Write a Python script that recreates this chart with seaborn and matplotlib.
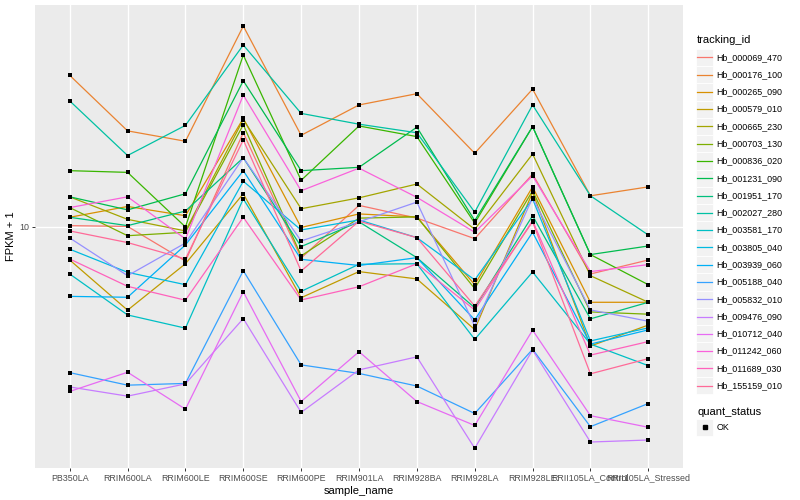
import math
import matplotlib
matplotlib.use("Agg")
import matplotlib.pyplot as plt
from matplotlib.patches import Rectangle
from matplotlib.lines import Line2D
from matplotlib.ticker import NullLocator
import pandas as pd
import seaborn as sns

samples = ["PB350LA", "RRIM600LA", "RRIM600LE", "RRIM600SE", "RRIM600PE",
           "RRIM901LA", "RRIM928BA", "RRIM928LA", "RRIM928LE",
           "RRII105LA_Control", "RRII105LA_Stressed"]

tracking_ids = ["Hb_000069_470", "Hb_000176_100", "Hb_000265_090", "Hb_000579_010",
                "Hb_000665_230", "Hb_000703_130", "Hb_000836_020", "Hb_001231_090",
                "Hb_001951_170", "Hb_002027_280", "Hb_003581_170", "Hb_003805_040",
                "Hb_003939_060", "Hb_005188_040", "Hb_005832_010", "Hb_009476_090",
                "Hb_010712_040", "Hb_011242_060", "Hb_011689_030", "Hb_155159_010"]

# FPKM + 1 per sample (same order as samples)
hb_000069_470 = [10.1, 10.04, 7.70, 20.6, 7.88, 11.8, 10.7, 9.14, 15.0, 6.97, 7.76]
hb_000176_100 = [32.0, 20.9, 19.3, 46.7, 20.2, 25.5, 27.8, 17.6, 28.8, 12.7, 13.6]
hb_000265_090 = [10.77, 11.7, 10.9, 23.0, 9.96, 11.05, 10.8, 6.42, 13.6, 5.61, 5.61]
hb_000579_010 = [7.76, 5.28, 7.54, 12.9, 5.81, 7.10, 6.71, 4.55, 13.05, 4.01, 4.71]
hb_000665_230 = [12.6, 10.6, 9.70, 22.8, 11.5, 12.5, 13.9, 9.82, 17.5, 6.88, 5.61]
hb_000703_130 = [11.6, 9.35, 9.60, 21.9, 8.01, 10.7, 10.8, 6.23, 13.2, 5.21, 5.12]
hb_000836_020 = [15.4, 15.2, 10.0, 37.4, 14.3, 21.7, 20.0, 10.3, 21.6, 8.09, 6.42]
hb_001231_090 = [12.6, 11.4, 12.9, 30.7, 15.4, 15.8, 21.5, 10.5, 21.6, 8.09, 8.64]
hb_001951_170 = [10.77, 10.1, 11.3, 17.0, 8.60, 10.4, 7.90, 5.38, 10.9, 4.94, 5.61]
hb_002027_280 = [26.3, 17.3, 21.8, 40.4, 23.9, 22.0, 20.6, 11.2, 25.5, 12.7, 9.40]
hb_003581_170 = [6.97, 5.09, 4.60, 12.4, 6.10, 7.51, 7.54, 4.22, 7.08, 4.07, 3.45]
hb_003805_040 = [8.43, 7.06, 6.42, 14.2, 9.77, 10.55, 9.21, 6.66, 12.4, 4.17, 4.61]
hb_003939_060 = [5.87, 5.83, 8.71, 15.4, 7.80, 7.44, 7.90, 4.90, 9.60, 4.07, 4.54]
hb_005188_040 = [3.27, 2.97, 3.01, 7.15, 3.47, 3.25, 2.95, 2.39, 3.91, 2.16, 2.58]
hb_005832_010 = [9.19, 6.88, 8.84, 17.0, 8.98, 10.4, 12.1, 4.68, 12.5, 5.29, 4.85]
hb_009476_090 = [2.93, 2.73, 3.00, 4.95, 2.41, 3.34, 3.69, 1.83, 3.89, 1.92, 1.95]
hb_010712_040 = [2.83, 3.28, 2.47, 6.08, 2.62, 3.84, 2.62, 2.18, 4.53, 2.35, 2.15]
hb_011242_060 = [11.6, 12.6, 9.12, 27.5, 13.2, 15.7, 12.55, 9.60, 14.8, 7.10, 7.49]
hb_011689_030 = [7.82, 6.34, 5.70, 10.77, 5.71, 6.32, 7.54, 5.29, 10.5, 3.74, 4.15]
hb_155159_010 = [9.70, 8.87, 7.82, 19.5, 7.13, 10.45, 9.21, 5.45, 10.4, 3.24, 3.64]

series_values = [hb_000069_470, hb_000176_100, hb_000265_090, hb_000579_010,
                 hb_000665_230, hb_000703_130, hb_000836_020, hb_001231_090,
                 hb_001951_170, hb_002027_280, hb_003581_170, hb_003805_040,
                 hb_003939_060, hb_005188_040, hb_005832_010, hb_009476_090,
                 hb_010712_040, hb_011242_060, hb_011689_030, hb_155159_010]


def hcl_hex(h, c=100.0, l=65.0):
    hr = math.radians(h)
    U, V = c * math.cos(hr), c * math.sin(hr)
    Xn, Yn, Zn = 95.047, 100.0, 108.883
    Y = Yn * ((l + 16) / 116) ** 3 if l > 8 else Yn * l / 903.3
    den = Xn + 15 * Yn + 3 * Zn
    un, vn = 4 * Xn / den, 9 * Yn / den
    u = U / (13 * l) + un
    v = V / (13 * l) + vn
    X = 9.0 * Y * u / (4 * v)
    Z = -X / 3 - 5 * Y + 3 * Y / v
    X, Y, Z = X / 100, Y / 100, Z / 100
    rgb = [3.240479 * X - 1.537150 * Y - 0.498535 * Z,
           -0.969256 * X + 1.875992 * Y + 0.041556 * Z,
           0.055648 * X - 0.204043 * Y + 1.057311 * Z]
    out = []
    for t in rgb:
        t = 12.92 * t if t <= 0.0031308 else 1.055 * t ** (1 / 2.4) - 0.055
        out.append(min(max(t, 0.0), 1.0))
    return tuple(out)


n = len(tracking_ids)
palette = [hcl_hex(15 + 360.0 * i / n) for i in range(n)]

rows = []
for tid, vals in zip(tracking_ids, series_values):
    for s, v in zip(samples, vals):
        rows.append({"tracking_id": tid, "sample_name": s, "fpkm": v, "quant_status": "OK"})
df = pd.DataFrame(rows)

plt.rcParams["font.family"] = ["Liberation Sans", "DejaVu Sans"]

fig = plt.figure(figsize=(8, 5), dpi=100)
ax = fig.add_axes([35 / 800, 32 / 500, 648 / 800, 463 / 500])
ax.set_facecolor("#EBEBEB")

sns.lineplot(data=df, x="sample_name", y="fpkm", hue="tracking_id",
             hue_order=tracking_ids, palette=palette, sort=False,
             estimator=None, legend=False, linewidth=0.9, ax=ax)
sns.scatterplot(data=df, x="sample_name", y="fpkm", color="black", marker="s",
                s=8, linewidth=0, legend=False, ax=ax, zorder=3)

ax.set_yscale("log")
ax.set_ylim(1.573, 54.9)
ax.set_xlim(-0.6, len(samples) - 0.4)
ax.set_yticks([10])
ax.set_yticklabels(["10"])
ax.yaxis.set_minor_locator(NullLocator())
ax.grid(True, which="major", color="white", linewidth=1.0)
ax.set_axisbelow(True)
for sp in ax.spines.values():
    sp.set_visible(False)
ax.tick_params(axis="both", length=2.5, width=0.7, color="#333333",
               labelsize=6.4, labelcolor="#4D4D4D", pad=1.6)
ax.set_xlabel("sample_name", fontsize=8.0, labelpad=2.5)
ax.set_ylabel("FPKM + 1", fontsize=8.0, labelpad=2.5)

# legend drawn in pixel coordinates
lax = fig.add_axes([0, 0, 1, 1], zorder=5)
lax.set_xlim(0, 800)
lax.set_ylim(500, 0)
lax.axis("off")
lax.patch.set_alpha(0)

lax.text(697, 40, "tracking_id", fontsize=8.0, va="center", ha="left")
step = 17.28
for i, tid in enumerate(tracking_ids):
    yc = 57.3 + step * i
    lax.add_patch(Rectangle((696, yc - step / 2), step, step, facecolor="#F2F2F2",
                            edgecolor="white", linewidth=0.6))
    lax.add_line(Line2D([697.3, 712], [yc, yc], color=palette[i], linewidth=0.9))
    lax.text(716.5, yc, tid, fontsize=6.4, va="center", ha="left")

lax.text(697, 411.7, "quant_status", fontsize=8.0, va="center", ha="left")
yc = 427.3
lax.add_patch(Rectangle((696, yc - step / 2), step, step, facecolor="#F2F2F2",
                        edgecolor="white", linewidth=0.6))
lax.add_line(Line2D([704.6], [yc], color="black", marker="s", markersize=2.6,
                    linestyle="none"))
lax.text(716.5, yc, "OK", fontsize=6.4, va="center", ha="left")

fig.savefig("out.png", dpi=100)
